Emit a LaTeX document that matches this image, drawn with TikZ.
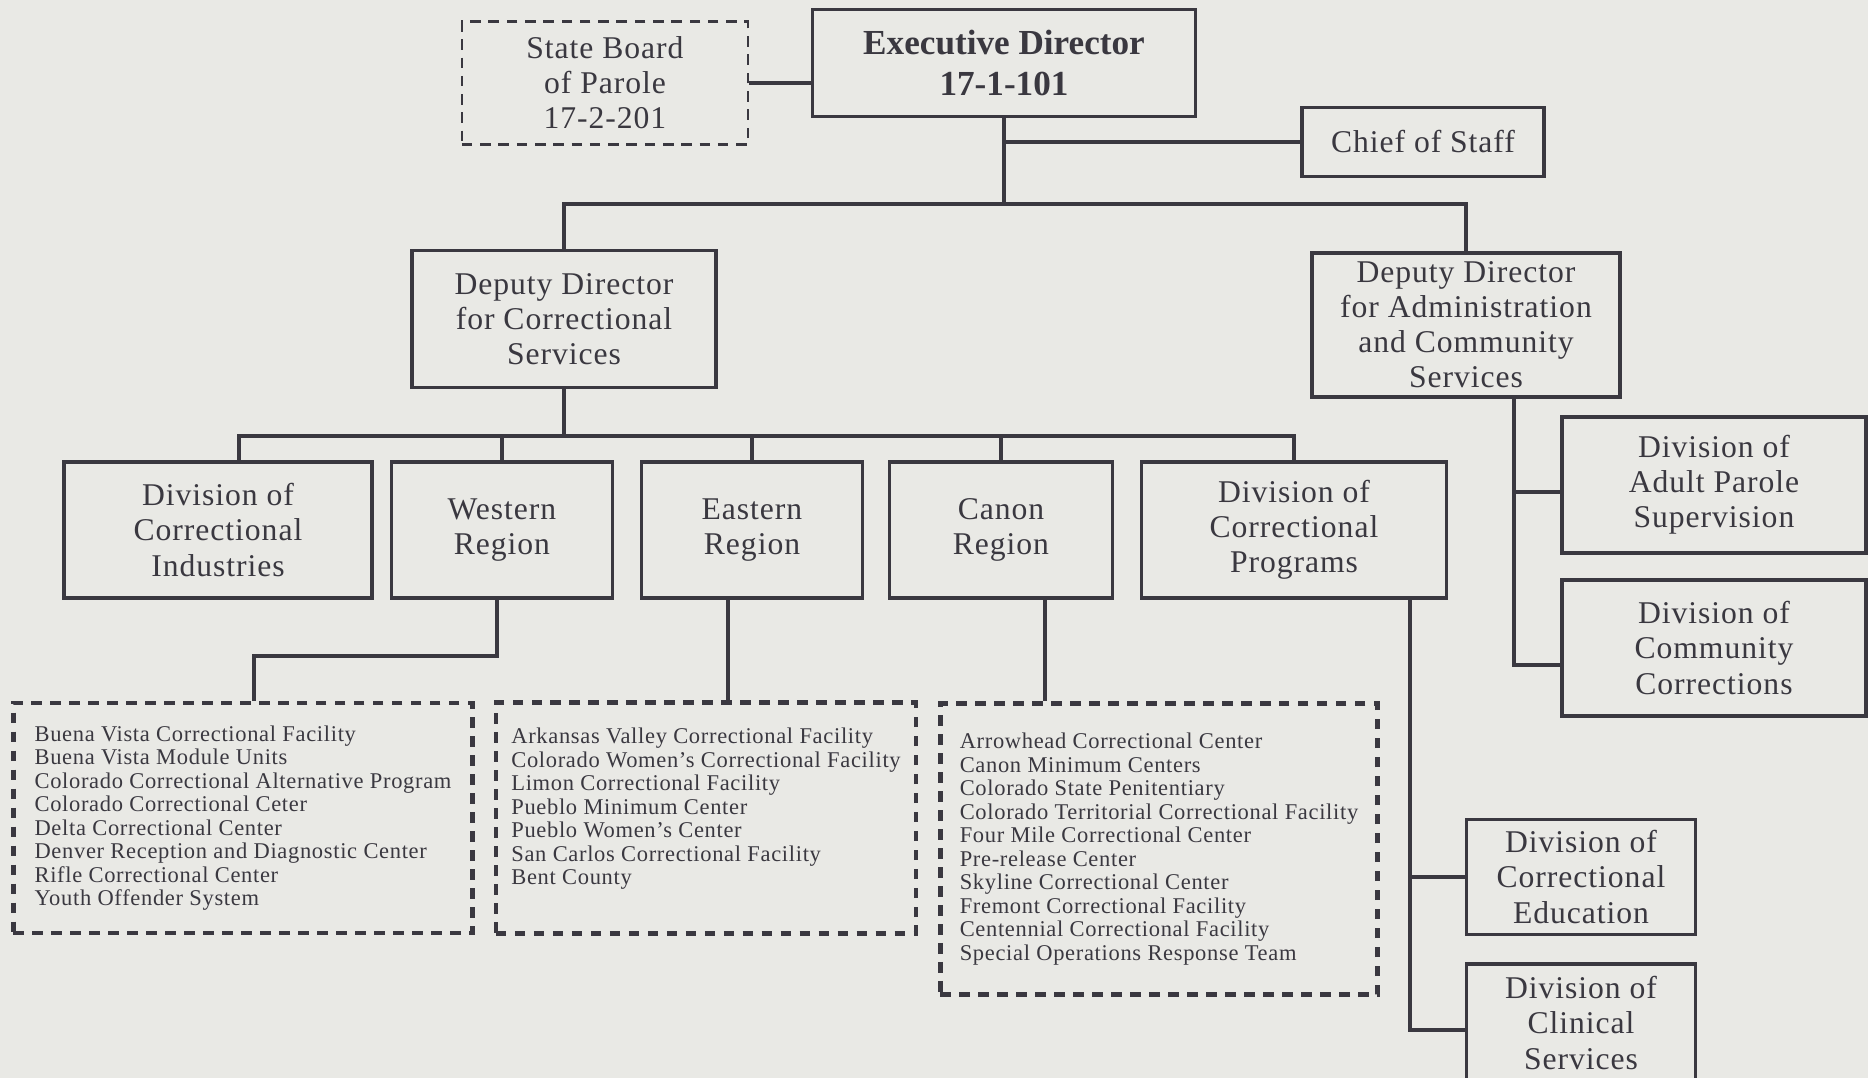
\documentclass[tikz,border=0pt]{standalone}
\usepackage{fontspec}
\setmainfont[LetterSpace=3]{Liberation Serif}
\newfontfamily\edfont{Liberation Serif}
\usepackage{tikz}
\usetikzlibrary{positioning}
\definecolor{paper}{RGB}{233,233,229}
\definecolor{ink}{RGB}{58,56,64}

\begin{document}
\begin{tikzpicture}[x=0.01cm, y=-0.01cm,
    orgbox/.style={draw=ink, line width=1pt, text=ink, align=center, inner sep=0pt,
      font=\fontsize{9}{9.96}\selectfont},
    dashbox/.style={orgbox, line width=1.3pt, dash pattern=on 3pt off 2.4pt,
      align=left, font=\fontsize{6.4}{6.69}\selectfont},
    wire/.style={draw=ink, line width=1pt}]
    \useasboundingbox (0,0) rectangle (1868,1078);
    \fill[paper] (0,0) rectangle (1868,1078);

    % director level
    \node[orgbox, line width=0.8pt, dash pattern=on 3pt off 2.2pt, minimum width=2.86cm, minimum height=1.23cm] (sbp) at (605,83) {State Board\\of Parole\\17-2-201};
    \node[orgbox, minimum width=3.83cm, minimum height=1.07cm, font=\edfont\bfseries\fontsize{10}{11.9}\selectfont] (exd) at (1004,63) {Executive Director\\17-1-101};
    \node[orgbox, minimum width=2.42cm, minimum height=0.69cm] (cos) at (1423,142) {Chief of Staff};

    \node[orgbox, minimum width=3.04cm, minimum height=1.37cm] (ddc) at (564,319) {Deputy Director\\for Correctional\\Services};
    \node[orgbox, minimum width=3.08cm, minimum height=1.44cm] (dda) at (1466,325) {Deputy Director\\for Administration\\and Community\\Services};

    % correctional services
    \node[orgbox, minimum width=3.08cm, minimum height=1.36cm] (dci) at (218,530) {Division of\\Correctional\\Industries};
    \node[orgbox, minimum width=2.21cm, minimum height=1.36cm] (wr) at (502,530) {Western\\Region};
    \node[orgbox, minimum width=2.21cm, minimum height=1.36cm] (er) at (752,530) {Eastern\\Region};
    \node[orgbox, minimum width=2.23cm, minimum height=1.36cm] (cr) at (1001,530) {Canon\\Region};
    \node[orgbox, minimum width=3.05cm, minimum height=1.36cm] (dcp) at (1294,530) {Division of\\Correctional\\Programs};

    \node[dashbox, minimum width=4.59cm, minimum height=2.30cm] (wlist) at (243,818) {Buena Vista Correctional Facility\\Buena Vista Module Units\\Colorado Correctional Alternative Program\\Colorado Correctional Ceter\\Delta Correctional Center\\Denver Reception and Diagnostic Center\\Rifle Correctional Center\\Youth Offender System};
    \node[dashbox, minimum width=4.20cm, minimum height=2.31cm] (elist) at (706,818) {Arkansas Valley Correctional Facility\\Colorado Women’s Correctional Facility\\Limon Correctional Facility\\Pueblo Minimum Center\\Pueblo Women’s Center\\San Carlos Correctional Facility\\Bent County\\\mbox{}};
    \node[dashbox, minimum width=4.37cm, minimum height=2.91cm] (clist) at (1159,849) {Arrowhead Correctional Center\\Canon Minimum Centers\\Colorado State Penitentiary\\Colorado Territorial Correctional Facility\\Four Mile Correctional Center\\Pre-release Center\\Skyline Correctional Center\\Fremont Correctional Facility\\Centennial Correctional Facility\\Special Operations Response Team};

    \node[orgbox, minimum width=2.29cm, minimum height=1.15cm] (dce) at (1581,877) {Division of\\Correctional\\Education};
    \node[orgbox, minimum width=2.29cm, minimum height=1.18cm] (dcs) at (1581,1023) {Division of\\Clinical\\Services};

    % administration and community services
    \node[orgbox, minimum width=3.04cm, minimum height=1.36cm] (dap) at (1714,485) {Division of\\Adult Parole\\Supervision};
    \node[orgbox, minimum width=3.04cm, minimum height=1.36cm] (dcc) at (1714,648) {Division of\\Community\\Corrections};

    % lines
    \draw[wire] (sbp.east) -- (sbp.east -| exd.west);
    \draw[wire] (exd.south) |- (cos.west);
    \coordinate (bus1) at (1004,204);
    \draw[wire] (exd.south) -- (bus1);
    \draw[wire] (ddc.north) |- (bus1) -| (dda.north);

    \coordinate (bus2) at (564,436);
    \draw[wire] (ddc.south) -- (bus2);
    \draw[wire] (bus2) -| ([xshift=0.21cm]dci.north);
    \foreach \c in {wr, er, cr, dcp}
      \draw[wire] (bus2) -| (\c.north);

    \draw[wire] ([xshift=-0.05cm]wr.south) -- ++(0,56) -| ([xshift=0.11cm]wlist.north);
    \draw[wire] ([xshift=-0.24cm]er.south) -- ([xshift=-0.24cm]er.south |- elist.north);
    \draw[wire] ([xshift=0.44cm]cr.south) -- ([xshift=0.44cm]cr.south |- clist.north);

    \coordinate (dcpdrop) at ([xshift=1.16cm]dcp.south);
    \draw[wire] (dcpdrop) |- ([yshift=-0.07cm]dcs.west);
    \draw[wire] (dcpdrop |- dce.west) -- (dce.west);

    \coordinate (ddadrop) at ([xshift=0.48cm]dda.south);
    \coordinate (dapin) at ([yshift=-0.07cm]dap.west);
    \draw[wire] (ddadrop) |- ([yshift=-0.17cm]dcc.west);
    \draw[wire] (ddadrop |- dapin) -- (dapin);
\end{tikzpicture}
\end{document}
